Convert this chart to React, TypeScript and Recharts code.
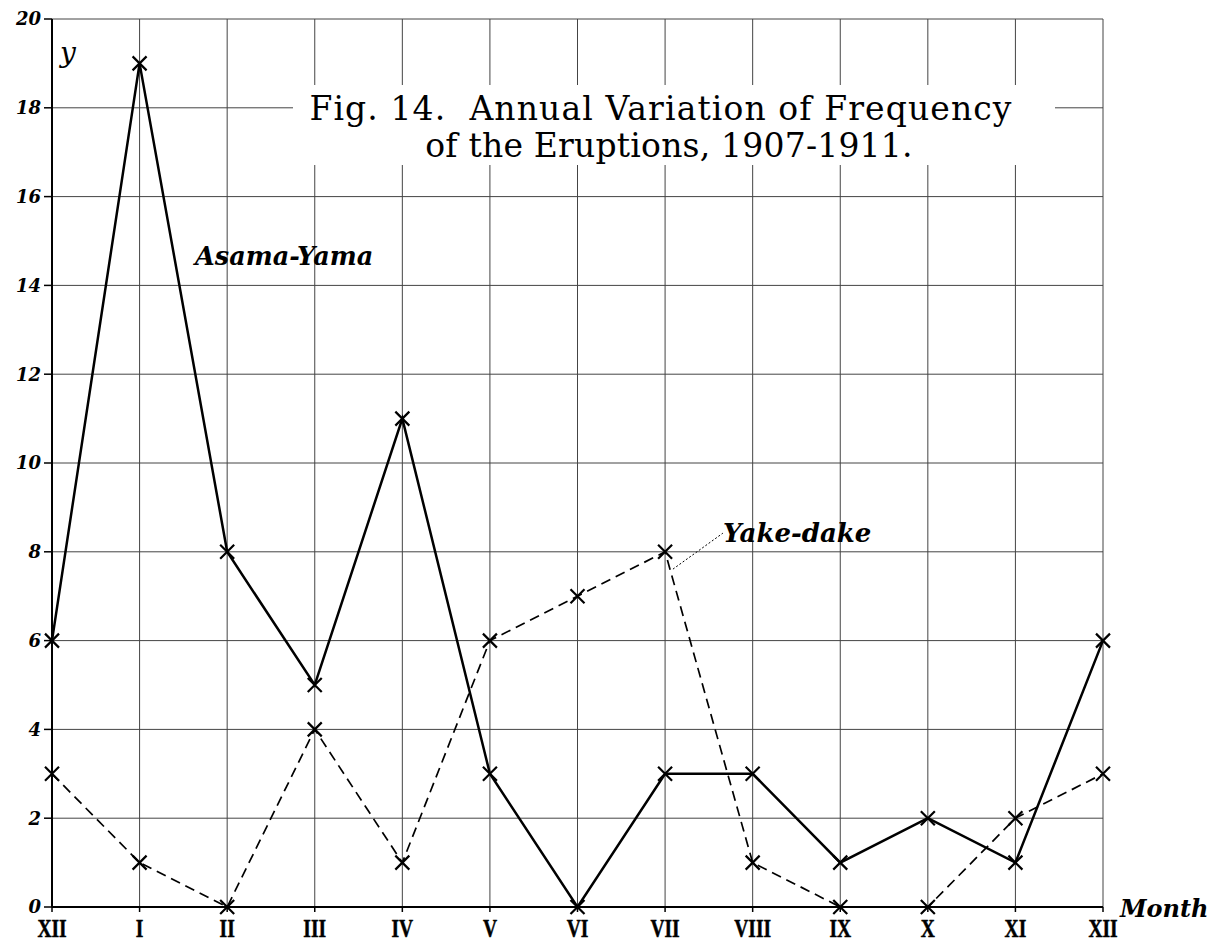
import React from "react";
import { LineChart, Line, XAxis, YAxis, CartesianGrid, ReferenceLine } from "recharts";

const monthLabels = ["XII", "I", "II", "III", "IV", "V", "VI", "VII", "VIII", "IX", "X", "XI", "XII"];
const asamaYama = [6, 19, 8, 5, 11, 3, 0, 3, 3, 1, 2, 1, 6];
const yakeDake = [3, 1, 0, 4, 1, 6, 7, 8, 1, 0, 0, 2, 3];
const yTicks = [0, 2, 4, 6, 8, 10, 12, 14, 16, 18, 20];
const xTicks = monthLabels.map((_, i) => i);

const data = monthLabels.map((m, i) => ({ idx: i, month: m, asama: asamaYama[i], yake: yakeDake[i] }));

const SERIF = "'DejaVu Serif', 'Liberation Serif', serif";

const XMark = (props: any) => {
  const { cx, cy, index, size = 6, width = 2 } = props;
  if (cx == null || cy == null) return null;
  return (
    <path
      key={`m-${index}`}
      d={`M${cx - size},${cy - size}L${cx + size},${cy + size}M${cx - size},${cy + size}L${cx + size},${cy - size}`}
      stroke="#000"
      strokeWidth={width}
      fill="none"
    />
  );
};

const MonthTick = (props: any) => {
  const { x, y, payload } = props;
  return (
    <g transform={`translate(${x},${y})`}>
      <text
        transform="scale(0.78,1)"
        textAnchor="middle"
        y={23}
        fontFamily="'Liberation Serif', serif"
        fontWeight="bold"
        fontSize={25}
        fill="#000"
        stroke="#000"
        strokeWidth={0.5}
      >
        {monthLabels[payload.value]}
      </text>
    </g>
  );
};

export default function App() {
  return (
    <div style={{ position: "relative", width: 1200, height: 935, background: "#fff" }}>
      <LineChart width={1200} height={935} data={data} margin={{ top: 11, right: 105, left: 0, bottom: 0 }}>
        <CartesianGrid stroke="#444" strokeWidth={1} />
        <XAxis
          type="number"
          dataKey="idx"
          domain={[0, 12]}
          ticks={xTicks}
          interval={0}
          height={36}
          tick={<MonthTick />}
          tickSize={5}
          tickMargin={2}
          axisLine={{ stroke: "#000", strokeWidth: 2 }}
          tickLine={{ stroke: "#000", strokeWidth: 1.5 }}
        />
        <YAxis
          type="number"
          domain={[0, 20]}
          ticks={yTicks}
          interval={0}
          width={44}
          tickSize={8}
          tickMargin={3}
          axisLine={{ stroke: "#000", strokeWidth: 2 }}
          tickLine={{ stroke: "#000", strokeWidth: 1.5 }}
          tick={{ fill: "#000", fontFamily: SERIF, fontStyle: "italic", fontWeight: "bold", fontSize: 18 }}
        />
        <ReferenceLine
          segment={[{ x: 7.09, y: 7.61 }, { x: 7.66, y: 8.42 }]}
          stroke="#000"
          strokeWidth={1}
          strokeDasharray="2 2"
        />
        <Line
          type="linear"
          dataKey="yake"
          stroke="#000"
          strokeWidth={1.7}
          strokeDasharray="10 6"
          dot={(p: any) => <XMark key={`y-${p.index}`} {...p} size={7} width={2.2} />}
          activeDot={false}
          isAnimationActive={false}
        />
        <Line
          type="linear"
          dataKey="asama"
          stroke="#000"
          strokeWidth={2.5}
          dot={(p: any) => <XMark key={`a-${p.index}`} {...p} size={7} width={2.2} />}
          activeDot={false}
          isAnimationActive={false}
        />
      </LineChart>
      <svg
        width={1200}
        height={935}
        style={{ position: "absolute", left: 0, top: 0, pointerEvents: "none" }}
      >
        <rect x={285} y={77} width={762} height={80} fill="#fff" />
        <text x={653} y={112} textAnchor="middle" fontFamily={SERIF} fontSize={33} letterSpacing={1.1} fill="#000">
          Fig. 14.{"\u00a0\u00a0"}Annual Variation of Frequency
        </text>
        <text x={661} y={149} textAnchor="middle" fontFamily={SERIF} fontSize={33} letterSpacing={0.2} fill="#000">
          of the Eruptions, 1907-1911.
        </text>
        <text x={187} y={257} fontFamily={SERIF} fontStyle="italic" fontWeight="bold" fontSize={25.5} fill="#000">
          Asama-Yama
        </text>
        <text x={715} y={534} fontFamily={SERIF} fontStyle="italic" fontWeight="bold" fontSize={26} fill="#000">
          Yake-dake
        </text>
        <text x={52} y={54} fontFamily={SERIF} fontStyle="italic" fontSize={28} fill="#000">
          y
        </text>
        <text x={1112} y={909} fontFamily={SERIF} fontStyle="italic" fontWeight="bold" fontSize={24} fill="#000">
          Month
        </text>
      </svg>
    </div>
  );
}
